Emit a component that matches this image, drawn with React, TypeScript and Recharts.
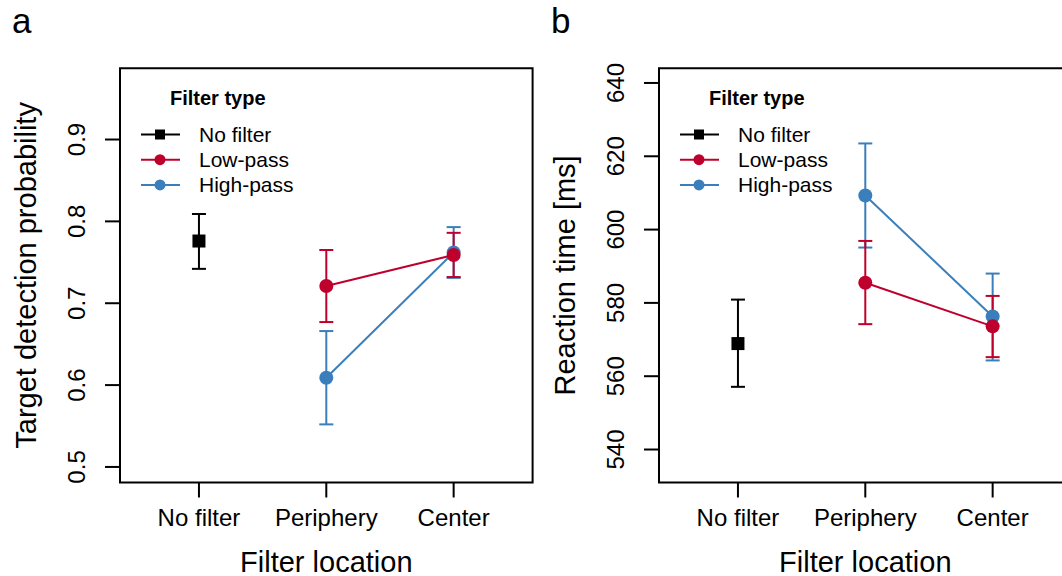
import { LineChart, Line, XAxis, YAxis, ErrorBar, ReferenceArea, Legend } from 'recharts';

const FONT = "'Liberation Sans', Arial, Helvetica, sans-serif";
const RED = '#c0002c';
const BLUE = '#3a7fbb';

const locations = ['No filter', 'Periphery', 'Center'];
const locationX = [1, 2, 3];
const xDomain = [0.38, 3.62];

// panel a: target detection probability
const detNoFilter = [0.776];
const detNoFilterLo = [0.742];
const detNoFilterHi = [0.809];
const detLow = [0.721, 0.759];
const detLowLo = [0.677, 0.732];
const detLowHi = [0.765, 0.786];
const detHigh = [0.609, 0.762];
const detHighLo = [0.552, 0.731];
const detHighHi = [0.666, 0.793];
const detTicks = [0.5, 0.6, 0.7, 0.8, 0.9];
const detDomain = [0.481, 0.987];

// panel b: reaction time
const rtNoFilter = [568.9];
const rtNoFilterLo = [557.1];
const rtNoFilterHi = [580.9];
const rtLow = [585.5, 573.6];
const rtLowLo = [574.2, 565.2];
const rtLowHi = [596.9, 581.9];
const rtHigh = [609.3, 576.3];
const rtHighLo = [595.1, 564.3];
const rtHighHi = [623.5, 588.0];
const rtTicks = [540, 560, 580, 600, 620, 640];
const rtDomain = [531, 644];

const legendItems = [
  { name: 'No filter', color: '#000', shape: 'square' },
  { name: 'Low-pass', color: RED, shape: 'circle' },
  { name: 'High-pass', color: BLUE, shape: 'circle' },
];

type Row = { x: number; y: number; err: [number, number] };

function rows(xs: number[], mean: number[], lo: number[], hi: number[]): Row[] {
  return mean.map((m, i) => ({ x: xs[i], y: m, err: [m - lo[i], hi[i] - m] }));
}

type Series = { key: string; color: string; shape: string; data: Row[] };

function LegendBox() {
  return (
    <svg width={240} height={120} style={{ display: 'block' }}>
      <text x={40} y={25} fontFamily={FONT} fontSize={20} fontWeight="bold" fill="#000">
        Filter type
      </text>
      {legendItems.map((it, i) => {
        const cy = 54.5 + i * 25.2;
        return (
          <g key={it.name}>
            <line x1={11} x2={50} y1={cy} y2={cy} stroke={it.color} strokeWidth={2} />
            {it.shape === 'square' ? (
              <rect x={25} y={cy - 5} width={10} height={10} fill={it.color} />
            ) : (
              <circle cx={30} cy={cy} r={5.5} fill={it.color} />
            )}
            <text x={69} y={cy + 7.5} fontFamily={FONT} fontSize={21} fill="#000">
              {it.name}
            </text>
          </g>
        );
      })}
    </svg>
  );
}

function Panel({
  letter,
  yTitle,
  yDomain,
  yTicks,
  fmt,
  series,
}: {
  letter: string;
  yTitle: string;
  yDomain: number[];
  yTicks: number[];
  fmt: (v: number) => string;
  series: Series[];
}) {
  const YTick = (p: any) => {
    const tx = p.x - 28;
    return (
      <text
        x={tx}
        y={p.y}
        dy="0.35em"
        textAnchor="middle"
        transform={`rotate(-90, ${tx}, ${p.y})`}
        fontFamily={FONT}
        fontSize={24}
        fill="#000"
      >
        {fmt(p.payload.value)}
      </text>
    );
  };

  const XTick = (p: any) => (
    <text x={p.x} y={p.y + 28.3} textAnchor="middle" fontFamily={FONT} fontSize={24} fill="#000">
      {locations[locationX.indexOf(p.payload.value)]}
    </text>
  );

  const yLabel = (p: any) => {
    const vb = p.viewBox;
    const left = vb.x + vb.width;
    const tx = left - 84;
    const ty = vb.y + vb.height / 2;
    return (
      <g>
        <text
          x={tx}
          y={ty}
          textAnchor="middle"
          transform={`rotate(-90, ${tx}, ${ty})`}
          fontFamily={FONT}
          fontSize={29}
          fill="#000"
        >
          {yTitle}
        </text>
        <text x={left - 108} y={33} fontFamily={FONT} fontSize={35} fill="#000">
          {letter}
        </text>
      </g>
    );
  };

  const xLabel = (p: any) => {
    const vb = p.viewBox;
    return (
      <text x={vb.x + vb.width / 2} y={vb.y + 89.5} textAnchor="middle" fontFamily={FONT} fontSize={29} fill="#000">
        Filter location
      </text>
    );
  };

  return (
    <LineChart width={560} height={576} margin={{ top: 68.3, left: 119, right: 27.4, bottom: 92.5 }}>
      <XAxis
        type="number"
        dataKey="x"
        domain={xDomain}
        ticks={locationX}
        interval={0}
        height={1}
        tickSize={15}
        tickMargin={0}
        axisLine={false}
        tickLine={{ stroke: '#000', strokeWidth: 2 }}
        tick={XTick}
        label={xLabel}
      />
      <YAxis
        type="number"
        domain={yDomain}
        ticks={yTicks}
        interval={0}
        width={1}
        tickSize={15}
        tickMargin={0}
        axisLine={false}
        tickLine={{ stroke: '#000', strokeWidth: 2 }}
        tick={YTick}
        label={yLabel}
      />
      <ReferenceArea
        x1={xDomain[0]}
        x2={xDomain[1]}
        y1={yDomain[0]}
        y2={yDomain[1]}
        fill="none"
        stroke="#000"
        strokeWidth={2}
        ifOverflow="visible"
      />
      {series.map((s) => (
        <Line
          key={s.key}
          data={s.data}
          dataKey="y"
          type="linear"
          stroke={s.color}
          strokeWidth={2}
          isAnimationActive={false}
          activeDot={false}
          dot={
            s.shape === 'square'
              ? (p: any) => (
                  <rect key={`${s.key}-${p.index}`} x={p.cx - 6.5} y={p.cy - 6.5} width={13} height={13} fill={s.color} />
                )
              : { r: 7, fill: s.color, stroke: 'none', strokeWidth: 0 }
          }
        >
          <ErrorBar dataKey="err" direction="y" width={7} stroke={s.color} strokeWidth={2} />
        </Line>
      ))}
      <Legend
        layout="vertical"
        align="center"
        verticalAlign="middle"
        content={() => <LegendBox />}
        wrapperStyle={{ left: 130, top: 80, width: 240, height: 120 }}
      />
    </LineChart>
  );
}

const seriesA: Series[] = [
  { key: 'high', color: BLUE, shape: 'circle', data: rows([2, 3], detHigh, detHighLo, detHighHi) },
  { key: 'low', color: RED, shape: 'circle', data: rows([2, 3], detLow, detLowLo, detLowHi) },
  { key: 'none', color: '#000', shape: 'square', data: rows([1], detNoFilter, detNoFilterLo, detNoFilterHi) },
];

const seriesB: Series[] = [
  { key: 'high', color: BLUE, shape: 'circle', data: rows([2, 3], rtHigh, rtHighLo, rtHighHi) },
  { key: 'low', color: RED, shape: 'circle', data: rows([2, 3], rtLow, rtLowLo, rtLowHi) },
  { key: 'none', color: '#000', shape: 'square', data: rows([1], rtNoFilter, rtNoFilterLo, rtNoFilterHi) },
];

export default function App() {
  return (
    <div style={{ position: 'absolute', left: 0, top: 0, width: 1062, height: 576, overflow: 'hidden', background: '#fff' }}>
      <div style={{ position: 'absolute', left: 0, top: 0 }}>
        <Panel
          letter="a"
          yTitle="Target detection probability"
          yDomain={detDomain}
          yTicks={detTicks}
          fmt={(v) => v.toFixed(1)}
          series={seriesA}
        />
      </div>
      <div style={{ position: 'absolute', left: 539, top: 0 }}>
        <Panel
          letter="b"
          yTitle="Reaction time [ms]"
          yDomain={rtDomain}
          yTicks={rtTicks}
          fmt={(v) => String(v)}
          series={seriesB}
        />
      </div>
    </div>
  );
}
